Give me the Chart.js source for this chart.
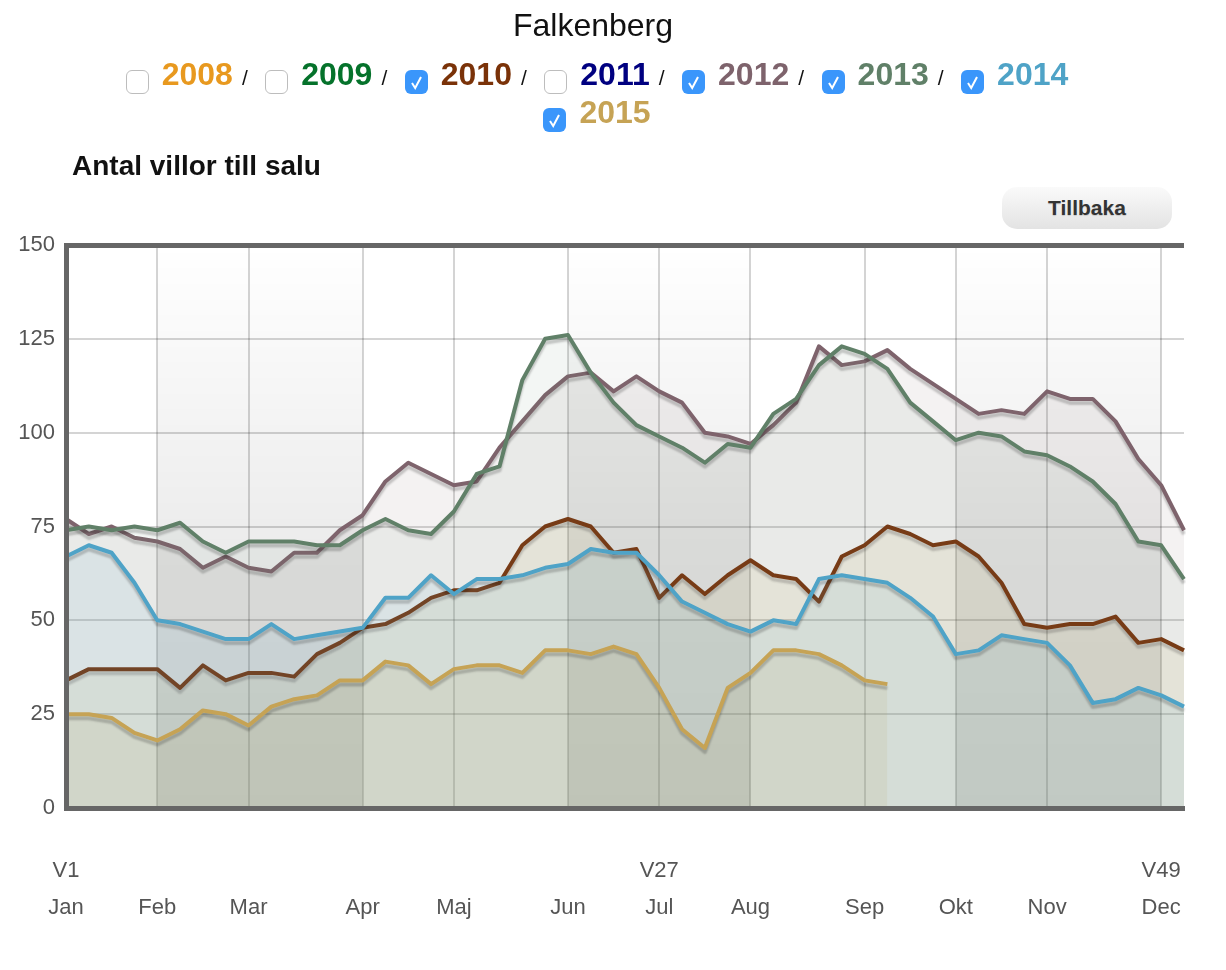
<!DOCTYPE html>
<html>
<head>
<meta charset="utf-8">
<title>Falkenberg</title>
<script src="https://cdn.jsdelivr.net/npm/chart.js"></script>
<style>
    html, body { margin: 0; padding: 0; background: #fff; }
    body { position: relative; width: 1226px; height: 970px; overflow: hidden; font-family: "Liberation Sans", Arial, sans-serif; }
    #chart { position: absolute; left: 0; top: 0; }
    h1 { position: absolute; left: 0; top: 7px; width: 1186px; margin: 0; text-align: center; font-size: 32px; line-height: 36px; font-weight: normal; color: #111; }
    #years { position: absolute; left: 102px; top: 58px; width: 990px; text-align: center; line-height: 32px; }
    .year { display: inline-block; white-space: nowrap; }
    .year b { font-size: 32px; margin-left: 13px; }
    .year i { font-size: 21px; font-style: normal; color: #111; margin: 0 17.5px 0 9px; }
    .year input { appearance: none; -webkit-appearance: none; position: relative; top: 4px; width: 23px; height: 24px; margin: 0; vertical-align: -5px; border: 1px solid #bdbdbd; border-radius: 6px; background: #fff; box-sizing: border-box; }
    .year input:checked { border: none; background: #3a96fb url("data:image/svg+xml,%3Csvg xmlns='http://www.w3.org/2000/svg' width='23' height='24'%3E%3Cpath d='M7 13l3.2 5L16 7' fill='none' stroke='%23fff' stroke-width='2'/%3E%3C/svg%3E"); }
    h2 { position: absolute; left: 72px; top: 150px; margin: 0; font-size: 28px; line-height: 32px; color: #111; }
    #back { position: absolute; left: 1002px; top: 187px; width: 170px; height: 42px; border: none; border-radius: 15px; background: linear-gradient(#fafafa, #e3e3e3); font: bold 21px "Liberation Sans", Arial, sans-serif; color: #333; text-shadow: 0 1px 1px rgba(0,0,0,.15); }
</style>
</head>
<body>
<canvas id="chart" width="1226" height="970"></canvas>
<h1>Falkenberg</h1>
<div id="years"></div>
<h2>Antal villor till salu</h2>
<button id="back">Tillbaka</button>
<script>
const weeks = ['V1','V2','V3','V4','V5','V6','V7','V8','V9','V10','V11','V12','V13','V14','V15','V16','V17','V18','V19','V20','V21','V22','V23','V24','V25','V26','V27','V28','V29','V30','V31','V32','V33','V34','V35','V36','V37','V38','V39','V40','V41','V42','V43','V44','V45','V46','V47','V48','V49','V50'];
const months = ['Jan','Feb','Mar','Apr','Maj','Jun','Jul','Aug','Sep','Okt','Nov','Dec'];
const monthWeeks = ['V1','V5','V9','V14','V18','V23','V27','V31','V36','V40','V44','V49'];
const namedWeeks = ['V1','V27','V49'];
const yTicks = [0, 25, 50, 75, 100, 125, 150];
const shadedMonths = [['V5','V14'], ['V23','V31'], ['V40','V49']];

const years = ['2008','2009','2010','2011','2012','2013','2014','2015'];
const yearColors = ['#e8991f','#05722b','#7a3208','#000080','#7e636c','#608068','#4fa3c7','#c6a355'];
const yearFills = {
    '2010': 'rgba(200, 170, 70, 0.1)',
    '2012': 'rgba(126, 99, 108, 0.085)',
    '2013': 'rgba(96, 128, 104, 0.075)',
    '2014': 'rgba(79, 163, 199, 0.095)',
    '2015': 'rgba(170, 150, 85, 0.105)'
};

const v2010 = [34,37,37,37,37,32,38,34,36,36,35,41,44,48,49,52,56,58,58,60,70,75,77,75,68,69,56,62,57,62,66,62,61,55,67,70,75,73,70,71,67,60,49,48,49,49,51,44,45,42];
const v2012 = [77,73,75,72,71,69,64,67,64,63,68,68,74,78,87,92,89,86,87,96,103,110,115,116,111,115,111,108,100,99,97,102,108,123,118,119,122,117,113,109,105,106,105,111,109,109,103,93,86,74];
const v2013 = [74,75,74,75,74,76,71,68,71,71,71,70,70,74,77,74,73,79,89,91,114,125,126,116,108,102,99,96,92,97,96,105,109,118,123,121,117,108,103,98,100,99,95,94,91,87,81,71,70,61];
const v2014 = [67,70,68,60,50,49,47,45,45,49,45,46,47,48,56,56,62,57,61,61,62,64,65,69,68,68,62,55,52,49,47,50,49,61,62,61,60,56,51,41,42,46,45,44,38,28,29,32,30,27];
const v2015 = [25,25,24,20,18,21,26,25,22,27,29,30,34,34,39,38,33,37,38,38,36,42,42,41,43,41,32,21,16,32,36,42,42,41,38,34,33];

const seriesByYear = { '2010': v2010, '2012': v2012, '2013': v2013, '2014': v2014, '2015': v2015 };

// Later years lie on top, as in the original
const datasets = Object.keys(seriesByYear).map(y => ({
    label: y,
    data: seriesByYear[y],
    order: 2015 - Number(y),
    borderColor: yearColors[years.indexOf(y)],
    backgroundColor: yearFills[y],
    borderWidth: 4,
    borderJoinStyle: 'round',
    pointRadius: 0,
    tension: 0,
    fill: 'origin'
}));

// Darker quarter bands behind the areas
const bandsPlugin = {
    id: 'bands',
    beforeDatasetsDraw(chart) {
        const { ctx, chartArea: a, scales: { x } } = chart;
        const g = ctx.createLinearGradient(0, a.top, 0, a.bottom);
        g.addColorStop(0, 'rgba(0, 0, 0, 0)');
        g.addColorStop(0.5, 'rgba(0, 0, 0, 0.07)');
        g.addColorStop(1, 'rgba(0, 0, 0, 0.115)');
        ctx.save();
        ctx.fillStyle = g;
        shadedMonths.forEach(([from, to]) => {
            const x0 = x.getPixelForValue(weeks.indexOf(from));
            const x1 = x.getPixelForValue(weeks.indexOf(to));
            ctx.fillRect(x0, a.top, x1 - x0, a.bottom - a.top);
        });
        ctx.restore();
    }
};

// Soft shadow under the lines only (filler has already drawn by now)
const shadowPlugin = {
    id: 'lineShadow',
    beforeDatasetDraw(chart) {
        const ctx = chart.ctx;
        ctx.save();
        ctx.shadowColor = 'rgba(0, 0, 0, 0.2)';
        ctx.shadowBlur = 2;
        ctx.shadowOffsetY = 4;
    },
    afterDatasetDraw(chart) {
        chart.ctx.restore();
    }
};

const chart = new Chart(document.getElementById('chart'), {
    type: 'line',
    data: { labels: weeks, datasets: datasets },
    options: {
        responsive: false,
        animation: false,
        layout: { padding: { left: 0, top: 245, right: 42, bottom: 0 } },
        plugins: { legend: { display: false }, title: { display: false }, tooltip: { enabled: false } },
        scales: {
            x: {
                offset: false,
                afterFit: s => { s.height = 162; },
                afterBuildTicks: s => {
                    s.ticks = s.ticks.filter(t => monthWeeks.includes(weeks[t.value]));
                },
                grid: { color: 'rgba(0, 0, 0, 0.17)', lineWidth: 2, drawTicks: false },
                border: { color: '#666', width: 5, z: 1 },
                ticks: {
                    autoSkip: false,
                    maxRotation: 0,
                    padding: 44,
                    color: '#555',
                    font: { family: '"Liberation Sans", Arial, sans-serif', size: 22, lineHeight: 1.68 },
                    callback(value) {
                        const w = weeks[value];
                        const m = months[monthWeeks.indexOf(w)];
                        return [namedWeeks.includes(w) ? w : '', m];
                    }
                }
            },
            y: {
                min: 0,
                max: 150,
                afterFit: s => { s.width = 66; },
                afterBuildTicks: s => { s.ticks = yTicks.map(v => ({ value: v })); },
                grid: {
                    color: c => c.tick.value === 150 ? '#666' : 'rgba(0, 0, 0, 0.17)',
                    lineWidth: c => c.tick.value === 150 ? 5 : 2,
                    drawTicks: false
                },
                border: { color: '#666', width: 5, z: 1 },
                ticks: {
                    padding: 11,
                    color: '#555',
                    font: { family: '"Liberation Sans", Arial, sans-serif', size: 22 }
                }
            }
        }
    },
    plugins: [bandsPlugin, shadowPlugin]
});

// Year checkboxes above the chart
const yearsBox = document.getElementById('years');
years.forEach((y, i) => {
    const on = y in seriesByYear;
    const slash = i < years.length - 2 ? '<i>/</i>' : '';
    yearsBox.insertAdjacentHTML('beforeend',
        `<span class="year"><input type="checkbox" ${on ? 'checked' : ''}><b style="color:${yearColors[i]}">${y}</b>${slash}</span>`);
});
</script>
</body>
</html>
